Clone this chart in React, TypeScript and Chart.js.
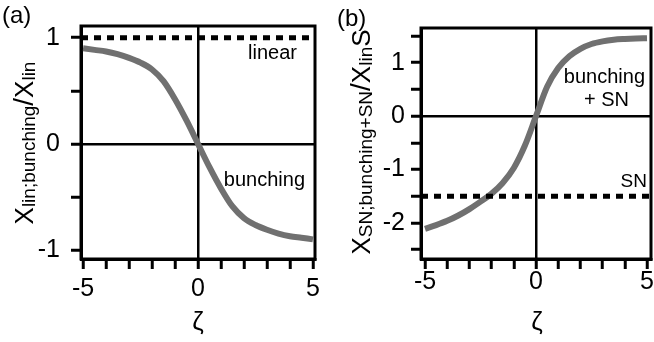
import React, { useEffect, useRef } from 'react';
import { Chart, registerables } from 'chart.js';
Chart.register(...registerables);

// ---- data ----
const ZETA = [-5, -4.5, -4, -3.5, -3, -2.5, -2, -1.5, -1, -0.5, 0, 0.5, 1, 1.5, 2, 2.5, 3, 3.5, 4, 4.5, 5];
const BUNCHING = [0.9, 0.885, 0.87, 0.845, 0.81, 0.765, 0.7, 0.59, 0.42, 0.22, 0, -0.22, -0.42, -0.59, -0.7, -0.765, -0.81, -0.845, -0.87, -0.885, -0.9];
const BUNCHING_SN = [-2.11, -2.04, -1.96, -1.86, -1.74, -1.6, -1.45, -1.25, -0.97, -0.55, 0, 0.55, 0.9, 1.12, 1.26, 1.35, 1.4, 1.43, 1.445, 1.455, 1.46];
const LINEAR_LEVEL = 1;
const SN_LEVEL = -1.5;

const X_TICKS = [-5, -4, -3, -2, -1, 0, 1, 2, 3, 4, 5];
const X_TICK_LABELS = [-5, 0, 5];
const Y_TICKS_A = [-1, -0.5, 0, 0.5, 1];
const Y_TICK_LABELS_A = [-1, 0, 1];
const Y_TICKS_B = [-2.5, -2, -1.5, -1, -0.5, 0, 0.5, 1, 1.5];
const Y_TICK_LABELS_B = [-2, -1, 0, 1];

const FONT = '"Liberation Sans", Arial, sans-serif';

type Part = { t: string; size: number; dy: number };

function drawVerticalRich(ctx: CanvasRenderingContext2D, bx: number, cy: number, parts: Part[]) {
  ctx.save();
  let total = 0;
  const widths = parts.map((p) => {
    ctx.font = `${p.size}px ${FONT}`;
    const w = ctx.measureText(p.t).width;
    total += w;
    return w;
  });
  ctx.translate(bx, cy);
  ctx.rotate(-Math.PI / 2);
  ctx.textBaseline = 'alphabetic';
  ctx.textAlign = 'left';
  ctx.fillStyle = '#000';
  let x = -total / 2;
  parts.forEach((p, i) => {
    ctx.font = `${p.size}px ${FONT}`;
    ctx.fillText(p.t, x, p.dy);
    x += widths[i];
  });
  ctx.restore();
}

type TextItem = { t: string; x: number; y: number; size: number; align: CanvasTextAlign };

function makeConfig(opts: {
  values: number[];
  level: number;
  xMin: number;
  xMax: number;
  yMin: number;
  yMax: number;
  yTicks: number[];
  yLabels: number[];
  yWidth: number;
  yPad: number;
  xHeight: number;
  xPad: number;
  padding: { left: number; right: number; top: number; bottom: number };
  texts: TextItem[];
  yLabelParts: Part[];
  yLabelX: number;
  yLabelY: number;
}) {
  const framePlugin = {
    id: 'frameAndText',
    afterDraw(chart: any) {
      const { ctx, chartArea } = chart;
      ctx.save();
      ctx.strokeStyle = '#000';
      ctx.lineWidth = 3;
      ctx.strokeRect(chartArea.left, chartArea.top, chartArea.right - chartArea.left, chartArea.bottom - chartArea.top);
      ctx.fillStyle = '#000';
      ctx.textBaseline = 'middle';
      opts.texts.forEach((tx) => {
        ctx.font = `${tx.size}px ${FONT}`;
        ctx.textAlign = tx.align;
        ctx.fillText(tx.t, tx.x, tx.y);
      });
      ctx.restore();
      drawVerticalRich(ctx, opts.yLabelX, opts.yLabelY, opts.yLabelParts);
    },
  };

  const gridCommon = {
    display: true,
    drawOnChartArea: true,
    color: (c: any) => (c.tick && c.tick.value === 0 ? '#000' : 'rgba(0,0,0,0)'),
    lineWidth: 2.5,
    tickColor: '#000',
    tickWidth: 3,
    tickLength: 10,
  };

  return {
    type: 'line' as const,
    data: {
      datasets: [
        {
          data: [
            { x: opts.xMin, y: opts.level },
            { x: opts.xMax, y: opts.level },
          ],
          borderColor: '#000',
          borderWidth: 5,
          borderDash: [7, 6],
          pointRadius: 0,
          fill: false,
        },
        {
          data: ZETA.map((z, i) => ({ x: z, y: opts.values[i] })),
          borderColor: '#707070',
          borderWidth: 6,
          pointRadius: 0,
          cubicInterpolationMode: 'monotone' as const,
          fill: false,
        },
      ],
    },
    options: {
      responsive: false,
      animation: false as const,
      devicePixelRatio: 1,
      layout: { padding: opts.padding },
      plugins: { legend: { display: false }, tooltip: { enabled: false } },
      scales: {
        x: {
          type: 'linear' as const,
          min: opts.xMin,
          max: opts.xMax,
          afterBuildTicks: (s: any) => {
            s.ticks = X_TICKS.map((v) => ({ value: v }));
          },
          afterFit: (s: any) => {
            s.height = opts.xHeight;
          },
          grid: gridCommon,
          border: { display: true, color: '#000', width: 3 },
          ticks: {
            autoSkip: false,
            maxRotation: 0,
            padding: opts.xPad,
            color: '#000',
            font: { family: FONT, size: 25 },
            callback: (v: any) => (X_TICK_LABELS.includes(Number(v)) ? String(v) : ''),
          },
        },
        y: {
          type: 'linear' as const,
          min: opts.yMin,
          max: opts.yMax,
          afterBuildTicks: (s: any) => {
            s.ticks = opts.yTicks.map((v) => ({ value: v }));
          },
          afterFit: (s: any) => {
            s.width = opts.yWidth;
          },
          grid: gridCommon,
          border: { display: true, color: '#000', width: 3 },
          ticks: {
            autoSkip: false,
            padding: opts.yPad,
            color: '#000',
            font: { family: FONT, size: 25 },
            callback: (v: any) => (opts.yLabels.includes(Number(v)) ? String(v) : ''),
          },
        },
      },
    },
    plugins: [framePlugin],
  };
}

function Panel({ cfg, width, left }: { cfg: any; width: number; left: number }) {
  const ref = useRef<HTMLCanvasElement>(null);
  useEffect(() => {
    if (!ref.current) return;
    const chart = new Chart(ref.current, cfg);
    return () => chart.destroy();
  }, []);
  return (
    <canvas
      ref={ref}
      width={width}
      height={342}
      style={{ position: 'absolute', left, top: 0, width, height: 342 }}
    />
  );
}

export default function App() {
  const cfgA = makeConfig({
    values: BUNCHING,
    level: LINEAR_LEVEL,
    xMin: -5.09,
    xMax: 5.09,
    yMin: -1.085,
    yMax: 1.11,
    yTicks: Y_TICKS_A,
    yLabels: Y_TICK_LABELS_A,
    yWidth: 81,
    yPad: 11,
    xHeight: 83,
    xPad: 5,
    padding: { left: 0, right: 15, top: 23, bottom: 0 },
    texts: [
      { t: '(a)', x: 2, y: 16, size: 24, align: 'left' },
      { t: 'linear', x: 297, y: 53, size: 20, align: 'right' },
      { t: 'bunching', x: 305, y: 180, size: 20, align: 'right' },
      { t: 'ζ', x: 198, y: 323, size: 26, align: 'center' },
    ],
    yLabelParts: [
      { t: 'X', size: 26, dy: 0 },
      { t: 'lin;bunching', size: 19, dy: 2 },
      { t: '/', size: 28, dy: 0 },
      { t: 'X', size: 26, dy: 0 },
      { t: 'lin', size: 19, dy: 2 },
    ],
    yLabelX: 33,
    yLabelY: 143,
  });
  const cfgB = makeConfig({
    values: BUNCHING_SN,
    level: SN_LEVEL,
    xMin: -5.18,
    xMax: 5.18,
    yMin: -2.674,
    yMax: 1.65,
    yTicks: Y_TICKS_B,
    yLabels: Y_TICK_LABELS_B,
    yWidth: 91,
    yPad: 6,
    xHeight: 83,
    xPad: -2,
    padding: { left: 0, right: 3, top: 28, bottom: 0 },
    texts: [
      { t: '(b)', x: 7, y: 19, size: 24, align: 'left' },
      { t: 'bunching', x: 315, y: 77, size: 20, align: 'right' },
      { t: '+ SN', x: 299, y: 100, size: 20, align: 'right' },
      { t: 'SN', x: 317, y: 182, size: 19, align: 'right' },
      { t: 'ζ', x: 207, y: 323, size: 26, align: 'center' },
    ],
    yLabelParts: [
      { t: 'X', size: 26, dy: 0 },
      { t: 'SN;bunching+SN', size: 19, dy: 2 },
      { t: '/', size: 28, dy: 0 },
      { t: 'X', size: 26, dy: 0 },
      { t: 'lin', size: 19, dy: 2 },
      { t: 'S', size: 26, dy: 0 },
    ],
    yLabelX: 40,
    yLabelY: 142,
  });
  return (
    <div style={{ position: 'absolute', left: 0, top: 0, width: 654, height: 342, background: '#fff', overflow: 'hidden' }}>
      <Panel cfg={cfgA} width={330} left={0} />
      <Panel cfg={cfgB} width={324} left={330} />
    </div>
  );
}
